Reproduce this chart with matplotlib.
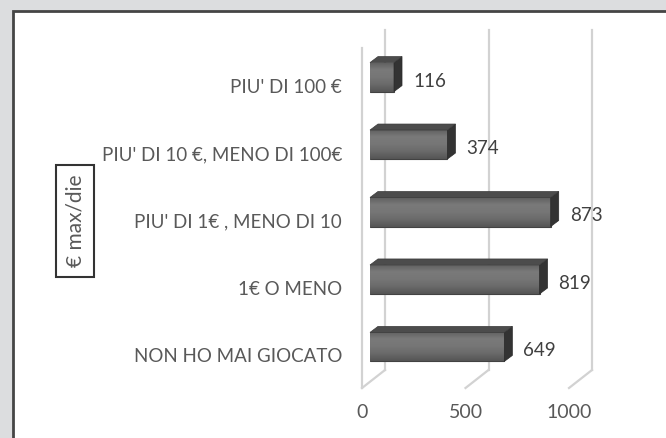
import numpy as np
import matplotlib
matplotlib.use("Agg")
import matplotlib.pyplot as plt
from matplotlib.patches import Rectangle, Polygon
from matplotlib.lines import Line2D
from matplotlib.transforms import offset_copy, IdentityTransform
from matplotlib.colors import LinearSegmentedColormap

plt.rcParams['font.family'] = ['Lato', 'Liberation Sans', 'DejaVu Sans']

categories = ["NON HO MAI GIOCATO", "1€ O MENO", "PIU' DI 1€ , MENO DI 10",
              "PIU' DI 10 €, MENO DI 100€", "PIU' DI 100 €"]
values = [649, 819, 873, 374, 116]
x_ticks = [0, 500, 1000]
axis_title = "€ max/die"

W, H = 666, 438
fs = 13.5
fig = plt.figure(figsize=(W / 100, H / 100), dpi=100, facecolor="#dcdddf")

# white panel with dark border (runs off the right and bottom edges)
fig.add_artist(Rectangle((13 / W, -0.05), 1.0, 1 - 11 / H + 0.05,
                         transform=fig.transFigure, facecolor="white",
                         edgecolor="#454545", linewidth=2, zorder=0))

# axes = plane the bars sit in
ax = fig.add_axes([370 / W, (H - 382) / H, 207 / W, 340 / H])
ax.set_xlim(0, 1000)
ylo, yhi = -0.52, 4.52
ax.set_ylim(ylo, yhi)
ax.axis("off")


def shifted(dx, dy):
    return offset_copy(ax.transData, fig=fig, x=dx, y=dy, units="dots")


front = shifted(-8, -6)
back = shifted(15, 12)
grid_col = "#d2d2d2"

# back wall gridlines
for t in x_ticks:
    ax.plot([t, t], [ylo, yhi], color=grid_col, lw=1.6, transform=back,
            clip_on=False, zorder=1)
    # floor diagonals
    p0 = front.transform((t, ylo))
    p1 = back.transform((t, ylo))
    fig.add_artist(Line2D([p0[0], p1[0]], [p0[1], p1[1]], color=grid_col,
                          lw=1.6, transform=IdentityTransform(), zorder=1))
    ax.annotate(str(t), xy=(t, ylo), xycoords=front, xytext=(0, -24),
                textcoords="offset pixels", ha="center", va="center",
                fontsize=fs + 0.5, color="#595959", annotation_clip=False)

# front left edge
ax.plot([0, 0], [ylo, yhi], color=grid_col, lw=1.6, transform=front,
        clip_on=False, zorder=1)

# bars
ypos = np.arange(len(categories))
bh = 0.43
bars = ax.barh(ypos, values, height=bh, color="#6c6c6c", edgecolor="#424242",
               linewidth=0.8, zorder=3)
cmap = LinearSegmentedColormap.from_list(
    "bar", ["#555555", "#6a6a6a", "#767676", "#7a7a7a", "#5e5e5e"])
grad = np.linspace(0, 1, 64).reshape(-1, 1)
dx, dy = 8, 6
for bar, v, y in zip(bars, values, ypos):
    y0, y1 = y - bh / 2, y + bh / 2
    im = ax.imshow(grad, extent=[0, v, y0, y1], origin="lower", cmap=cmap,
                   aspect="auto", zorder=3.5)
    im.set_clip_path(bar)
    # side face and top face, in display space
    br = ax.transData.transform((v, y0))
    tr = ax.transData.transform((v, y1))
    tl = ax.transData.transform((0, y1))
    side = Polygon([br, tr, tr + [dx, dy], br + [dx, dy]], closed=True,
                   facecolor="#333333", edgecolor="#2a2a2a", lw=0.5,
                   transform=IdentityTransform(), zorder=4)
    top = Polygon([tl, tr, tr + [dx, dy], tl + [dx, dy]], closed=True,
                  facecolor="#4c4c4c", edgecolor="#3a3a3a", lw=0.5,
                  transform=IdentityTransform(), zorder=4)
    fig.add_artist(side)
    fig.add_artist(top)
    # value label
    ax.annotate(str(v), xy=(v, y), xytext=(19, -4), textcoords="offset pixels",
                ha="left", va="center", fontsize=fs, color="#404040",
                annotation_clip=False)

# category labels
for lab, y in zip(categories, ypos):
    ax.annotate(lab, xy=(0, y), xytext=(-28, -10), textcoords="offset pixels",
                ha="right", va="center", fontsize=fs, color="#595959",
                annotation_clip=False)

ax.set_xlim(0, 1000)
ax.set_ylim(ylo, yhi)

# boxed axis title
fig.text(75 / W, 1 - 221 / H, axis_title, rotation=90, ha="center",
         va="center", fontsize=15, color="#595959",
         bbox=dict(boxstyle="square,pad=0.45", facecolor="white",
                   edgecolor="#333333", linewidth=1.5))

fig.savefig("out.png", dpi=100, facecolor=fig.get_facecolor())
